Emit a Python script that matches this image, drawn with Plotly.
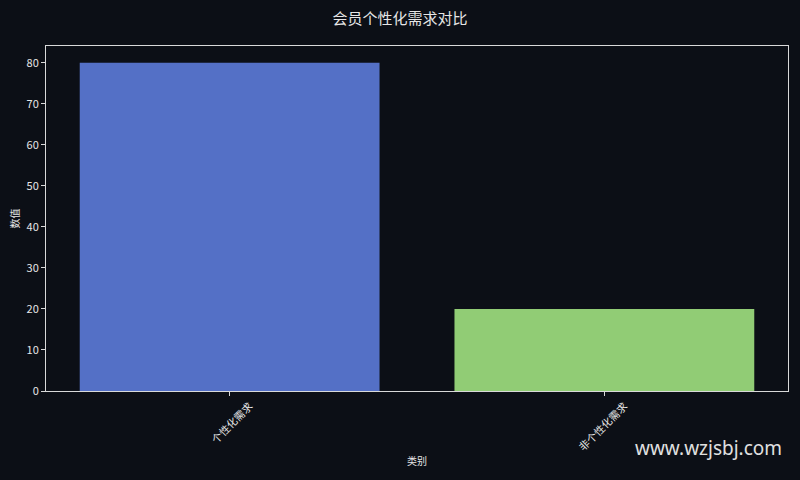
import plotly.graph_objects as go

categories = ['个性化需求', '非个性化需求']
values = [80, 20]
bar_colors = ['#5470c6', '#91cc75']

bg = '#0c0f16'
fg = '#e6e6e6'
font_family = 'Noto Sans CJK SC, DejaVu Sans, sans-serif'

fig = go.Figure(go.Bar(x=categories, y=values, marker_color=bar_colors,
                       marker_line_width=0, width=0.8))

fig.update_layout(
    width=800, height=480,
    paper_bgcolor=bg, plot_bgcolor=bg,
    margin=dict(l=46, r=12, t=46, b=89),
    font=dict(family=font_family, color=fg, size=11),
    title=dict(text='会员个性化需求对比', x=0.5, xanchor='center', y=0.96, yanchor='middle',
               font=dict(size=15, color=fg)),
    showlegend=False,
    bargap=0.2,
)
fig.update_xaxes(
    range=[-0.49, 1.49], showgrid=False, zeroline=False, automargin=False,
    showline=True, linecolor='#d9d9d9', linewidth=1, mirror=True,
    ticks='outside', ticklen=4, tickcolor='#d9d9d9', tickangle=-45,
    ticklabelshift=20,
    tickfont=dict(size=10.5, color=fg),
    title=dict(text='类别', font=dict(size=10, color=fg), standoff=5),
)
fig.update_yaxes(
    range=[0, 84.1], showgrid=False, zeroline=False, automargin=False,
    showline=True, linecolor='#d9d9d9', linewidth=1, mirror=True,
    ticks='outside', ticklen=4, tickcolor='#d9d9d9', dtick=10,
    tickfont=dict(size=11, color=fg),
    title=dict(text='数值', font=dict(size=10, color=fg), standoff=5),
)
fig.add_annotation(text='www.wzjsbj.com', xref='paper', yref='paper',
                   x=0.995, y=-0.165, xanchor='right', yanchor='middle', showarrow=False,
                   font=dict(size=19, color='#e0e0e0', family='Noto Sans, DejaVu Sans, sans-serif'))

fig.write_html('out.html', config={'displayModeBar': False},
               post_script="document.body.style.margin='0';")
